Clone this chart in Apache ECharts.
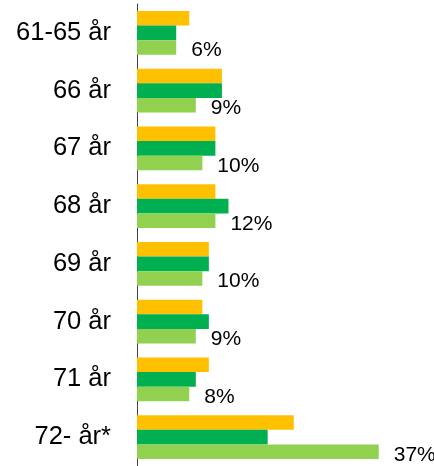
<!DOCTYPE html>
<html>
<head>
<meta charset="utf-8">
<script src="https://cdn.jsdelivr.net/npm/echarts@6/dist/echarts.min.js"></script>
<style>
  html, body { margin: 0; padding: 0; background: #fff; }
  #chart-panel { width: 434px; height: 466px; }
</style>
</head>
<body>
<div id="chart-panel"></div>
<script>
// categories, top to bottom
const categories = ["61-65 år", "66 år", "67 år", "68 år", "69 år", "70 år", "71 år", "72- år*"]
// share per age (%)
const orangeValues = [8, 13, 12, 12, 11, 10, 11, 24]
const darkGreenValues = [6, 13, 12, 14, 11, 11, 9, 20]
const lightGreenValues = [6, 9, 10, 12, 10, 9, 8, 37]

const color = ["#FFC000", "#00B050", "#92D050"]
const font = "'Liberation Sans', Arial, sans-serif"

const chart = echarts.init(document.getElementById("chart-panel"))

const options = {
  animation: false,
  color: color,
  grid: {
    left: 137,
    top: 4,
    width: 294,
    height: 462
  },
  xAxis: {
    type: "value",
    min: 0,
    max: 45,
    show: false
  },
  yAxis: {
    type: "category",
    inverse: true,
    data: categories,
    axisLine: {
      show: true,
      lineStyle: { color: "#404040", width: 1 }
    },
    axisTick: { show: false },
    axisLabel: {
      margin: 26,
      fontSize: 25.5,
      color: "#000",
      fontFamily: font
    }
  },
  series: [
    {
      type: "bar",
      data: orangeValues,
      barGap: "0%",
      barCategoryGap: "24%"
    },
    {
      type: "bar",
      data: darkGreenValues,
      barGap: "0%",
      barCategoryGap: "24%"
    },
    {
      type: "bar",
      data: lightGreenValues,
      barGap: "0%",
      barCategoryGap: "24%",
      label: {
        show: true,
        position: "right",
        distance: 15,
        offset: [0, 3],
        formatter: "{c}%",
        fontSize: 21,
        color: "#000",
        fontFamily: font
      }
    }
  ]
}
chart.setOption(options)
</script>
</body>
</html>
